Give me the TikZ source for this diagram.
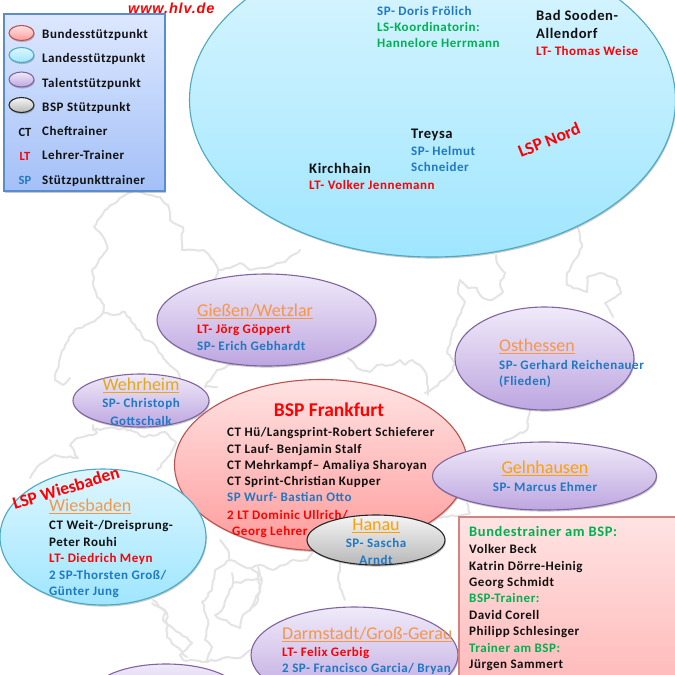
\documentclass[tikz,border=0pt]{standalone}
\usepackage{fontspec}
\setmainfont{Carlito}
\newfontfamily\lsfont[LetterSpace=4]{Carlito}
\newfontfamily\arialfont[LetterSpace=6]{Liberation Sans}
\usetikzlibrary{shapes.geometric,shadows,decorations.pathmorphing}
\definecolor{tblue}{HTML}{1F78C4}
\definecolor{tred}{HTML}{FF0000}
\definecolor{tgreen}{HTML}{00B050}
\definecolor{torange}{HTML}{F79646}
\definecolor{tamber}{HTML}{FFA000}
\definecolor{tgold}{HTML}{E6A817}
\definecolor{tblack}{HTML}{111111}
\definecolor{maplne}{HTML}{E4E4E4}
\pgfmathsetseed{7}
\tikzset{
  mapline/.style={draw=maplne,line width=2pt,line join=round,line cap=round,decorate,decoration={random steps,segment length=4pt,amplitude=1.1pt}},
  softshadow/.style={drop shadow={shadow xshift=0.8pt,shadow yshift=-1.6pt,opacity=.3,fill=black!70}},
  spot/.style={ellipse,inner sep=0pt,line width=1.1pt,softshadow},
  lspn/.style={spot,draw=lspd,top color=lspt,bottom color=lspb},
  tal/.style={spot,draw=tald,top color=talt,bottom color=talb},
  bund/.style={spot,draw=bunq,top color=bunt,bottom color=bunb},
  bsp/.style={spot,draw=black!85,top color=black!4,bottom color=black!28},
  legbox/.style={rectangle,inner sep=0pt,line width=1.1pt,draw=legd,top color=legt,bottom color=legb,softshadow},
  pinkbox/.style={rectangle,inner sep=0pt,line width=1.1pt,draw=bunq!70,top color=pinkt,bottom color=pinkb,softshadow},
  txt/.style={inner sep=0pt,anchor=base west,font=\lsfont\bfseries\fontsize{13}{15}\selectfont},
  ctr/.style={inner sep=0pt,anchor=base,font=\lsfont\bfseries\fontsize{13}{15}\selectfont},
  ort/.style={inner sep=0pt,anchor=base west,font=\lsfont\bfseries\fontsize{14.6}{16}\selectfont,text=tblack},
  ttl/.style={inner sep=0pt,anchor=base west,font=\fontsize{18}{20}\selectfont},
  ttc/.style={inner sep=0pt,anchor=base,font=\fontsize{18}{20}\selectfont},
  lab/.style={inner sep=0pt,anchor=center,font=\bfseries\fontsize{12.5}{14}\selectfont},
  stamp/.style={inner sep=0pt,anchor=center,text=tred,font=\bfseries\fontsize{17.5}{19}\selectfont}
}
\definecolor{lspd}{HTML}{4BA9C4}
\definecolor{lspt}{HTML}{DDF6FF}
\definecolor{lspb}{HTML}{9FE6FF}
\definecolor{tald}{HTML}{8064A2}
\definecolor{talt}{HTML}{F0EAF9}
\definecolor{talb}{HTML}{BDA6E0}
\definecolor{bunq}{HTML}{C0504D}
\definecolor{bunt}{HTML}{FFE3E3}
\definecolor{bunb}{HTML}{FF9C9C}
\definecolor{legd}{HTML}{5B8CCB}
\definecolor{legt}{HTML}{DDE8FF}
\definecolor{legb}{HTML}{A3C0F7}
\definecolor{pinkt}{HTML}{FFE3E3}
\definecolor{pinkb}{HTML}{FFB4B4}
\newcommand{\ulin}[1]{\leavevmode\vtop{\hbox{#1}\kern1.4pt\hrule height 1.2pt}}
\begin{document}
\begin{tikzpicture}[x=1pt,y=-1pt]
\clip (0,0) rectangle (675,675);
\fill[white] (0,0) rectangle (675,675);
% ---- map outline
\draw[mapline] (135,190)--(120,198)--(105,210)--(94,227)--(105,240)--(107,250)--(92,270)--(95,290)--(97,297)--(104,305)--(103,313)--(115,315)--(125,312)--(135,325)--(145,340)--(155,345)--(165,360)--(178,372)--(180,378);
\draw[mapline] (135,190)--(150,195)--(160,197)--(168,205)--(170,220)--(183,227)--(182,250)--(195,250)--(203,250)--(213,260)--(218,270)--(212,285);
\draw[mapline] (218,270)--(230,268)--(240,263)--(250,270)--(262,268)--(285,262)--(300,250);
\draw[mapline] (103,313)--(92,322)--(75,330)--(65,345)--(60,358)--(57,370)--(55,380)--(63,385)--(70,378);
\draw[mapline] (93,428)--(97,433)--(77,438)--(70,445)--(78,458)--(55,455)--(47,460)--(37,467)--(30,478);
\draw[mapline] (93,425)--(93,430)--(115,428)--(130,430)--(145,437)--(165,432)--(176,442)--(170,455)--(157,470);
\draw[mapline] (236,363)--(217,370)--(205,387)--(217,387);
\draw[mapline] (496,255)--(497,263)--(505,273)--(500,285)--(503,292)--(492,300)--(483,298)--(477,288)--(468,288)--(460,280)--(458,293)--(465,302)--(458,318)--(452,333)--(447,353)--(455,363)--(453,370)--(443,380)--(435,387)--(425,393);
\draw[mapline] (428,395)--(427,377)--(420,365)--(412,360)--(405,365)--(400,360)--(390,365)--(377,365)--(370,372)--(357,368)--(348,358);
\draw[mapline] (578,228)--(582,247)--(567,273)--(567,285)--(587,292)--(587,277)--(600,273)--(617,280)--(621,293)--(605,303)--(613,317);
\draw[mapline] (530,410)--(527,430)--(503,442);
\draw[mapline] (220,540)--(228,550)--(230,560)--(215,570)--(212,590)--(202,602)--(208,620)--(205,640)--(212,647)--(207,662)--(183,660)--(180,655)--(192,643)--(180,633)--(163,620)--(165,610)--(152,603);
\draw[mapline] (230,560)--(247,568)--(260,565)--(273,570)--(293,560)--(307,560)--(313,552);
\draw[mapline] (232,573)--(233,583)--(222,610)--(215,615)--(228,622)--(240,628)--(243,615)--(257,603)--(262,580)--(258,567);
\draw[mapline] (233,583)--(252,580)--(262,580);
\draw[mapline] (207,662)--(223,658)--(240,658)--(250,650);
\draw[mapline] (340,563)--(338,580)--(345,600);
\draw[mapline] (250,610)--(260,590)--(258,573)--(250,568);
\draw[mapline] (440,518)--(470,513)--(467,503);
\draw[mapline] (153,600)--(167,613)--(167,637)--(187,657);
% ---- legend
\node[legbox,minimum width=161pt,minimum height=177pt] (legend) at (84.5,102.5) {};
\node[spot,draw=bunq,top color=bunt,bottom color=bunb,minimum width=25pt,minimum height=15pt] (lbund) at (21.5,33) {};
\node[spot,draw=lspd,top color=lspt,bottom color=lspb,minimum width=25pt,minimum height=15pt] (llsp) at (21.5,55) {};
\node[tal,minimum width=25pt,minimum height=15pt] (ltal) at (21.5,79.5) {};
\node[bsp,minimum width=25pt,minimum height=15pt] (lbsp) at (21.5,105) {};
\node[lab,text=tblack] (lct) at (25,132) {CT};
\node[lab,text=tred] (llt) at (25,156) {LT};
\node[lab,text=tblue] (lsp) at (25,180) {SP};
\node[txt,text=tblack] (t1) at (42,38) {Bundesstützpunkt};
\node[txt,text=tblack] (t2) at (42,62) {Landesstützpunkt};
\node[txt,text=tblack] (t3) at (42,87) {Talentstützpunkt};
\node[txt,text=tblack] (t4) at (42,111) {BSP Stützpunkt};
\node[txt,text=tblack] (t5) at (42,135) {Cheftrainer};
\node[txt,text=tblack] (t6) at (42,159) {Lehrer-Trainer};
\node[txt,text=tblack] (t7) at (42,184) {Stützpunkttrainer};
\node[inner sep=0pt,anchor=base west,text=tred,font=\arialfont\bfseries\itshape\fontsize{14.5}{16}\selectfont] (web) at (128,13) {www.hlv.de};
% ---- LSP Nord
\node[lspn,minimum width=486pt,minimum height=314pt] (nord) at (432.5,100) {};
\node[txt,text=tblue] (n1) at (377,15) {SP- Doris Frölich};
\node[txt,text=tgreen] (n2) at (377,31) {LS-Koordinatorin:};
\node[txt,text=tgreen] (n3) at (377,47) {Hannelore Herrmann};
\node[ort] (n4) at (536,20) {Bad Sooden-};
\node[ort] (n5) at (536,38) {Allendorf};
\node[txt,text=tred] (n6) at (536,55) {LT- Thomas Weise};
\node[ort] (n7) at (411,138) {Treysa};
\node[txt,text=tblue] (n8) at (411,155) {SP- Helmut};
\node[txt,text=tblue] (n9) at (411,171) {Schneider};
\node[ort] (n10) at (309,173) {Kirchhain};
\node[txt,text=tred] (n11) at (309,189) {LT- Volker Jennemann};
\node[stamp,rotate=22] (n12) at (549,140) {LSP Nord};
% ---- Giessen
\node[tal,minimum width=219pt,minimum height=92pt] (giessen) at (266.5,320) {};
\node[ttl,text=torange] (g1) at (197,316) {\ulin{Gießen/Wetzlar}};
\node[txt,text=tred] (g2) at (197,333) {LT- Jörg Göppert};
\node[txt,text=tblue] (g3) at (197,350) {SP- Erich Gebhardt};
% ---- Osthessen
\node[tal,minimum width=179pt,minimum height=103pt] (ost) at (544.5,358.5) {};
\node[ttl,text=torange] (o1) at (499,351) {\ulin{Osthessen}};
\node[txt,text=tblue] (o2) at (499,369) {SP- Gerhard Reichenauer};
\node[txt,text=tblue] (o3) at (499,385) {(Flieden)};
% ---- Wehrheim
\node[tal,minimum width=136pt,minimum height=53pt] (wehr) at (141,400.5) {};
\node[ttc,text=tgold] (w1) at (141,390) {\ulin{Wehrheim}};
\node[ctr,text=tblue] (w2) at (141,407) {SP- Christoph};
\node[ctr,text=tblue] (w3) at (141,425) {Gottschalk};
% ---- Frankfurt
\node[bund,minimum width=293pt,minimum height=171pt] (ffm) at (321,465) {};
\node[inner sep=0pt,anchor=base,text=tred,font=\bfseries\fontsize{19.5}{21}\selectfont] (f0) at (329,416) {BSP Frankfurt};
\node[txt,text=tblack] (f1) at (227,436) {CT Hü/Langsprint-Robert Schieferer};
\node[txt,text=tblack] (f2) at (227,453) {CT Lauf- Benjamin Stalf};
\node[txt,text=tblack] (f3) at (227,469) {CT Mehrkampf– Amaliya Sharoyan};
\node[txt,text=tblack] (f4) at (227,485) {CT Sprint-Christian Kupper};
\node[txt,text=tblue] (f5) at (227,501) {SP Wurf- Bastian Otto};
\node[txt,text=tred] (f6) at (227,519) {2 LT Dominic Ullrich/};
\node[txt,text=tred] (f7) at (232,535) {Georg Lehrer};
% ---- Gelnhausen
\node[tal,minimum width=224pt,minimum height=68pt] (geln) at (544.5,476) {};
\node[ttc,text=tamber] (e1) at (545,473) {\ulin{Gelnhausen}};
\node[ctr,text=tblue] (e2) at (545,491) {SP- Marcus Ehmer};
% ---- Wiesbaden
\node[lspn,minimum width=206pt,minimum height=136pt] (wies) at (103,537) {};
\node[stamp,rotate=17] (wi0) at (66,488) {LSP Wiesbaden};
\node[ttl,text=torange] (wi1) at (49,511) {\ulin{Wiesbaden}};
\node[txt,text=tblack] (wi2) at (49,529) {CT Weit-/Dreisprung-};
\node[txt,text=tblack] (wi3) at (49,546) {Peter Rouhi};
\node[txt,text=tred] (wi4) at (49,562) {LT- Diedrich Meyn};
\node[txt,text=tblue] (wi5) at (49,579) {2 SP-Thorsten Groß/};
\node[txt,text=tblue] (wi6) at (49,595) {Günter Jung};
% ---- Hanau
\node[bsp,minimum width=138pt,minimum height=50pt] (hanau) at (376,540) {};
\node[ttc,text=tamber] (h1) at (376,530) {\ulin{Hanau}};
\node[ctr,text=tblue] (h2) at (376,547) {SP- Sascha};
\node[ctr,text=tblue] (h3) at (376,564) {Arndt};
% ---- lower ellipses
\node[tal,minimum width=148pt,minimum height=60pt] (unten) at (166,694) {};
\node[tal,minimum width=207pt,minimum height=96pt] (darm) at (354.5,655) {};
\node[ttl,text=torange] (d1) at (282,639) {\ulin{Darmstadt/Groß-Gerau}};
\node[txt,text=tred] (d2) at (282,656) {LT- Felix Gerbig};
\node[txt,text=tblue] (d3) at (282,672) {2 SP- Francisco Garcia/ Bryan};
% ---- Bundestrainer box
\node[pinkbox,minimum width=230pt,minimum height=190pt] (box) at (574,612) {};
\node[inner sep=0pt,anchor=base west,text=tgreen,font=\lsfont\bfseries\fontsize{14.5}{16}\selectfont] (b1) at (469,536) {Bundestrainer am BSP:};
\node[txt,text=tblack] (b2) at (469,553) {Volker Beck};
\node[txt,text=tblack] (b3) at (469,570) {Katrin Dörre-Heinig};
\node[txt,text=tblack] (b4) at (469,586) {Georg Schmidt};
\node[txt,text=tgreen] (b5) at (469,602) {BSP-Trainer:};
\node[txt,text=tblack] (b6) at (469,619) {David Corell};
\node[txt,text=tblack] (b7) at (469,635) {Philipp Schlesinger};
\node[txt,text=tgreen] (b8) at (469,652) {Trainer am BSP:};
\node[txt,text=tblack] (b9) at (469,668) {Jürgen Sammert};
\end{tikzpicture}
\end{document}
